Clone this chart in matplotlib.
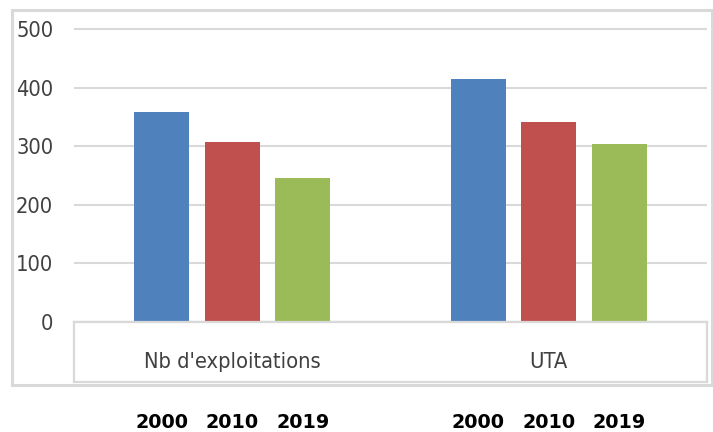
import numpy as np
import matplotlib.pyplot as plt
from matplotlib.patches import Rectangle
import matplotlib.transforms as mtransforms
from matplotlib import font_manager as fm

# donnees
categories = ["Nb d'exploitations", "UTA"]
years = ['2000', '2010', '2019']
val_2000 = [359, 415]
val_2010 = [307, 342]
val_2019 = [246, 304]
colors = ['#4F81BD', '#C0504D', '#9BBB59']
yticks = [0, 100, 200, 300, 400, 500]

W, H = 713, 432
fig = plt.figure(figsize=(W / 100, H / 100), dpi=100)

# police etroite si dispo
def find_narrow():
    prefs = ['LiberationSansNarrow-Regular', 'DejaVuSansCondensed.', 'Condensed-Regular', 'Narrow']
    files = [f.fname for f in fm.fontManager.ttflist]
    for p in prefs:
        for fn in files:
            base = fn.split('/')[-1]
            if p in base and 'Bold' not in base and 'Italic' not in base and 'Oblique' not in base:
                return fn
    return None

nfile = find_narrow()
if nfile is not None and 'Liberation' in nfile:
    nprop = fm.FontProperties(fname=nfile, size=18.5)
elif nfile is not None:
    nprop = fm.FontProperties(fname=nfile, size=15.7)
else:
    nprop = fm.FontProperties(family='DejaVu Sans', size=14)

grid_col = '#D9D9D9'

# zone du graphique
y0, ytop = 322, 26
ax = fig.add_axes([74 / W, (H - y0) / H, (707 - 74) / W, (y0 - ytop) / H])
x = np.arange(len(categories))
w = 0.174
step = 0.223
for i, vals in enumerate([val_2000, val_2010, val_2019]):
    ax.bar(x + (i - 1) * step, vals, width=w, color=colors[i], zorder=3)

ax.set_xlim(-0.5, 1.5)
ax.set_ylim(0, 505)
ax.set_yticks(yticks)
ax.set_yticklabels([str(t) for t in yticks], fontproperties=nprop, color='#404040')
ax.tick_params(axis='y', length=0, pad=15)
ax.set_xticks([])
ax.yaxis.grid(True, color=grid_col, linewidth=1.5)
for s in ['top', 'right', 'left']:
    ax.spines[s].set_visible(False)
ax.spines['bottom'].set_color(grid_col)
ax.spines['bottom'].set_linewidth(1.6)

# boite des categories
ax2 = fig.add_axes([74 / W, (H - 382) / H, (707 - 74) / W, (382 - y0) / H])
ax2.set_xlim(-0.5, 1.5)
ax2.set_ylim(0, 1)
ax2.set_xticks([])
ax2.set_yticks([])
for s in ax2.spines.values():
    s.set_color(grid_col)
    s.set_linewidth(1.6)
for xi, cat in zip(x, categories):
    ax2.text(xi, 0.34, cat, ha='center', va='center', fontproperties=nprop,
             color='#404040')

# annees sous le graphique
trans = mtransforms.blended_transform_factory(ax.transData, fig.transFigure)
for i, yr in enumerate(years):
    for xi in x:
        ax.text(xi + (i - 1) * step, (H - 422) / H, yr, transform=trans,
                ha='center', va='center', fontsize=13.8, fontweight='bold',
                family='DejaVu Sans', color='black')

# cadre exterieur
fig.patches.append(Rectangle((12 / W, (H - 385) / H), (712 - 12) / W, (385 - 10) / H,
                             transform=fig.transFigure, fill=False,
                             edgecolor=grid_col, linewidth=2.2))

plt.savefig('out.png', dpi=100)
